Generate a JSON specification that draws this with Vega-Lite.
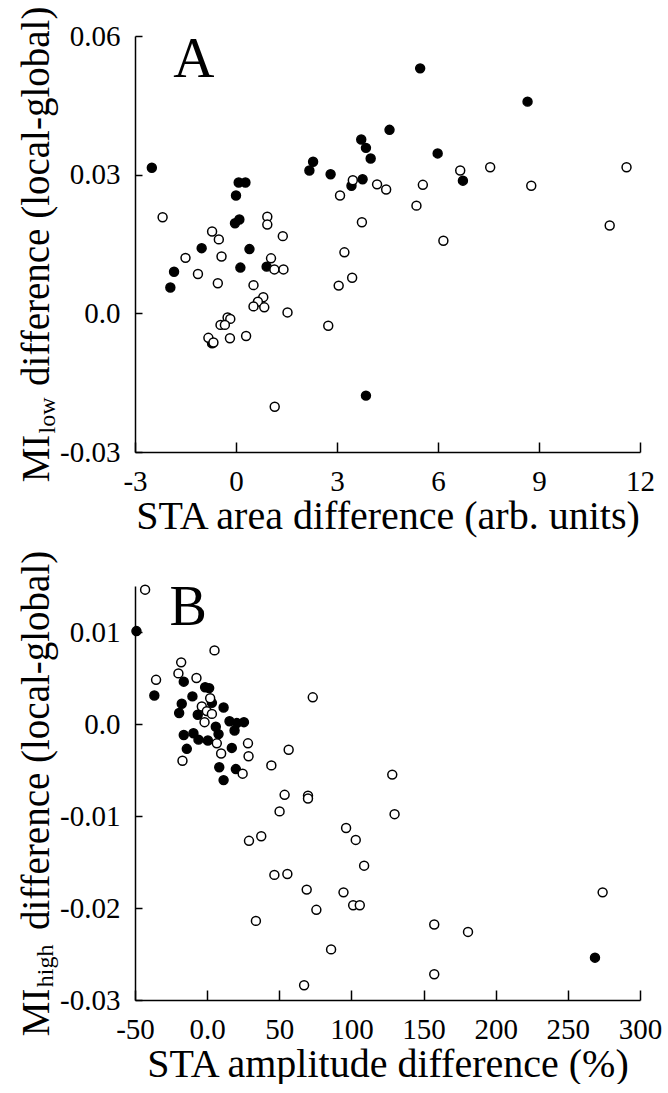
{
  "$schema": "https://vega.github.io/schema/vega-lite/v6.json",
  "autosize": {"type": "pad"},
  "padding": {"left": 17, "top": 6, "right": 0, "bottom": 0},
  "background": "white",
  "bounds": "flush",
  "spacing": 134,
  "config": {
    "view": {"stroke": null},
    "axis": {
      "domainColor": "black", "domainWidth": 1.5, "tickColor": "black", "tickWidth": 1.5,
      "grid": false, "labelFont": "Liberation Serif", "labelFontSize": 29, "labelColor": "black",
      "titleFont": "Liberation Serif", "titleFontSize": 39, "titleFontWeight": "normal", "titleColor": "black",
      "labelFlush": false, "labelOverlap": false
    },
    "axisX": {"tickSize": -10, "labelPadding": 25, "titlePadding": 0, "titleFontSize": 40},
    "axisY": {"tickSize": -7, "labelPadding": 22, "titlePadding": 3}
  },
  "datasets": {
    "a": [
      {"x": -2.50, "y": 0.0315, "t": "filled"},
      {"x": 0.08, "y": 0.0283, "t": "filled"},
      {"x": 0.28, "y": 0.0283, "t": "filled"},
      {"x": 0.00, "y": 0.0255, "t": "filled"},
      {"x": -0.03, "y": 0.0195, "t": "filled"},
      {"x": 0.10, "y": 0.0203, "t": "filled"},
      {"x": -1.02, "y": 0.0141, "t": "filled"},
      {"x": 0.40, "y": 0.0139, "t": "filled"},
      {"x": -1.84, "y": 0.0090, "t": "filled"},
      {"x": -1.95, "y": 0.0056, "t": "filled"},
      {"x": 0.13, "y": 0.0099, "t": "filled"},
      {"x": 0.91, "y": 0.0101, "t": "filled"},
      {"x": -0.71, "y": -0.0065, "t": "filled"},
      {"x": 2.18, "y": 0.0309, "t": "filled"},
      {"x": 2.29, "y": 0.0328, "t": "filled"},
      {"x": 2.81, "y": 0.0301, "t": "filled"},
      {"x": 3.72, "y": 0.0376, "t": "filled"},
      {"x": 3.86, "y": 0.0358, "t": "filled"},
      {"x": 4.00, "y": 0.0335, "t": "filled"},
      {"x": 4.56, "y": 0.0397, "t": "filled"},
      {"x": 3.76, "y": 0.0290, "t": "filled"},
      {"x": 3.43, "y": 0.0276, "t": "filled"},
      {"x": 3.86, "y": -0.0178, "t": "filled"},
      {"x": 5.47, "y": 0.0530, "t": "filled"},
      {"x": 8.66, "y": 0.0458, "t": "filled"},
      {"x": 5.99, "y": 0.0346, "t": "filled"},
      {"x": 6.74, "y": 0.0287, "t": "filled"},
      {"x": 6.66, "y": 0.0309, "t": "open"},
      {"x": 7.55, "y": 0.0316, "t": "open"},
      {"x": 11.6, "y": 0.0316, "t": "open"},
      {"x": 5.55, "y": 0.0278, "t": "open"},
      {"x": 8.77, "y": 0.0276, "t": "open"},
      {"x": 4.46, "y": 0.0268, "t": "open"},
      {"x": 5.36, "y": 0.0233, "t": "open"},
      {"x": 6.16, "y": 0.0157, "t": "open"},
      {"x": 11.1, "y": 0.0190, "t": "open"},
      {"x": -2.18, "y": 0.0208, "t": "open"},
      {"x": -0.71, "y": 0.0177, "t": "open"},
      {"x": -0.51, "y": 0.0160, "t": "open"},
      {"x": -1.50, "y": 0.0120, "t": "open"},
      {"x": -0.43, "y": 0.0123, "t": "open"},
      {"x": -1.13, "y": 0.0085, "t": "open"},
      {"x": -0.54, "y": 0.0065, "t": "open"},
      {"x": 0.93, "y": 0.0209, "t": "open"},
      {"x": 0.93, "y": 0.0192, "t": "open"},
      {"x": 1.39, "y": 0.0167, "t": "open"},
      {"x": 1.04, "y": 0.0119, "t": "open"},
      {"x": 1.14, "y": 0.0095, "t": "open"},
      {"x": 1.41, "y": 0.0095, "t": "open"},
      {"x": 0.52, "y": 0.0061, "t": "open"},
      {"x": 0.81, "y": 0.0035, "t": "open"},
      {"x": 0.65, "y": 0.0025, "t": "open"},
      {"x": 0.52, "y": 0.0015, "t": "open"},
      {"x": 0.84, "y": 0.0013, "t": "open"},
      {"x": 1.53, "y": 0.0002, "t": "open"},
      {"x": -0.25, "y": -0.0009, "t": "open"},
      {"x": -0.17, "y": -0.0012, "t": "open"},
      {"x": -0.46, "y": -0.0025, "t": "open"},
      {"x": -0.33, "y": -0.0025, "t": "open"},
      {"x": -0.82, "y": -0.0053, "t": "open"},
      {"x": -0.67, "y": -0.0063, "t": "open"},
      {"x": -0.18, "y": -0.0054, "t": "open"},
      {"x": 0.30, "y": -0.0049, "t": "open"},
      {"x": 2.74, "y": -0.0027, "t": "open"},
      {"x": 1.15, "y": -0.0202, "t": "open"},
      {"x": 3.09, "y": 0.0255, "t": "open"},
      {"x": 3.47, "y": 0.0288, "t": "open"},
      {"x": 4.19, "y": 0.0279, "t": "open"},
      {"x": 3.74, "y": 0.0197, "t": "open"},
      {"x": 3.22, "y": 0.0132, "t": "open"},
      {"x": 3.05, "y": 0.0060, "t": "open"},
      {"x": 3.45, "y": 0.0077, "t": "open"}
    ],
    "b": [
      {"x": -49.0, "y": 0.0101, "t": "filled"},
      {"x": -36.6, "y": 0.0031, "t": "filled"},
      {"x": -16.2, "y": 0.0046, "t": "filled"},
      {"x": -10.2, "y": 0.0030, "t": "filled"},
      {"x": -1.4, "y": 0.0040, "t": "filled"},
      {"x": 1.4, "y": 0.0039, "t": "filled"},
      {"x": -17.6, "y": 0.0022, "t": "filled"},
      {"x": -19.4, "y": 0.0012, "t": "filled"},
      {"x": -6.5, "y": 0.0010, "t": "filled"},
      {"x": 3.3, "y": 0.0023, "t": "filled"},
      {"x": 11.4, "y": 0.0018, "t": "filled"},
      {"x": 15.5, "y": 0.0003, "t": "filled"},
      {"x": 20.6, "y": 0.0001, "t": "filled"},
      {"x": 25.5, "y": 0.0002, "t": "filled"},
      {"x": 6.0, "y": -0.0003, "t": "filled"},
      {"x": 19.0, "y": -0.0007, "t": "filled"},
      {"x": -16.2, "y": -0.0012, "t": "filled"},
      {"x": -9.5, "y": -0.0010, "t": "filled"},
      {"x": -6.0, "y": -0.0017, "t": "filled"},
      {"x": 0.5, "y": -0.0018, "t": "filled"},
      {"x": 7.9, "y": -0.0011, "t": "filled"},
      {"x": -14.1, "y": -0.0027, "t": "filled"},
      {"x": 17.1, "y": -0.0026, "t": "filled"},
      {"x": 8.4, "y": -0.0047, "t": "filled"},
      {"x": 19.9, "y": -0.0049, "t": "filled"},
      {"x": 11.4, "y": -0.0061, "t": "filled"},
      {"x": 268.8, "y": -0.0254, "t": "filled"},
      {"x": -43.0, "y": 0.0146, "t": "open"},
      {"x": 5.1, "y": 0.0080, "t": "open"},
      {"x": -18.0, "y": 0.0067, "t": "open"},
      {"x": -19.9, "y": 0.0055, "t": "open"},
      {"x": -7.4, "y": 0.0050, "t": "open"},
      {"x": -35.4, "y": 0.0048, "t": "open"},
      {"x": 2.1, "y": 0.0028, "t": "open"},
      {"x": -3.7, "y": 0.0019, "t": "open"},
      {"x": -0.2, "y": 0.0014, "t": "open"},
      {"x": 3.3, "y": 0.0011, "t": "open"},
      {"x": -1.8, "y": 0.0002, "t": "open"},
      {"x": 6.7, "y": -0.0021, "t": "open"},
      {"x": 9.7, "y": -0.0032, "t": "open"},
      {"x": -17.1, "y": -0.0040, "t": "open"},
      {"x": 28.3, "y": -0.0021, "t": "open"},
      {"x": 28.7, "y": -0.0035, "t": "open"},
      {"x": 24.6, "y": -0.0054, "t": "open"},
      {"x": 73.2, "y": 0.0029, "t": "open"},
      {"x": 56.5, "y": -0.0028, "t": "open"},
      {"x": 44.5, "y": -0.0045, "t": "open"},
      {"x": 53.7, "y": -0.0077, "t": "open"},
      {"x": 69.9, "y": -0.0078, "t": "open"},
      {"x": 69.9, "y": -0.0081, "t": "open"},
      {"x": 50.2, "y": -0.0095, "t": "open"},
      {"x": 128.3, "y": -0.0055, "t": "open"},
      {"x": 129.9, "y": -0.0098, "t": "open"},
      {"x": 96.3, "y": -0.0113, "t": "open"},
      {"x": 103.0, "y": -0.0126, "t": "open"},
      {"x": 37.5, "y": -0.0122, "t": "open"},
      {"x": 29.0, "y": -0.0127, "t": "open"},
      {"x": 108.8, "y": -0.0154, "t": "open"},
      {"x": 46.6, "y": -0.0164, "t": "open"},
      {"x": 55.6, "y": -0.0163, "t": "open"},
      {"x": 69.0, "y": -0.0180, "t": "open"},
      {"x": 94.5, "y": -0.0183, "t": "open"},
      {"x": 101.2, "y": -0.0197, "t": "open"},
      {"x": 105.8, "y": -0.0197, "t": "open"},
      {"x": 75.7, "y": -0.0202, "t": "open"},
      {"x": 33.8, "y": -0.0214, "t": "open"},
      {"x": 274.1, "y": -0.0183, "t": "open"},
      {"x": 157.4, "y": -0.0218, "t": "open"},
      {"x": 180.8, "y": -0.0226, "t": "open"},
      {"x": 85.9, "y": -0.0245, "t": "open"},
      {"x": 157.4, "y": -0.0272, "t": "open"},
      {"x": 67.2, "y": -0.0284, "t": "open"}
    ]
  },
  "vconcat": [
    {
      "width": 505,
      "height": 416,
      "layer": [
        {
          "data": {"name": "a"},
          "mark": {"type": "circle", "size": 80, "stroke": "black", "strokeWidth": 1.5, "opacity": 1, "clip": false},
          "encoding": {
            "x": {"field": "x", "type": "quantitative",
                  "scale": {"domain": [-3, 12], "nice": false, "zero": false},
                  "axis": {"title": "STA area difference (arb. units)", "values": [-3, 0, 3, 6, 9, 12],
                           "labelExpr": "(datum.value < 0 ? '-' : '') + format(abs(datum.value), 'd')"}},
            "y": {"field": "y", "type": "quantitative",
                  "scale": {"domain": [-0.03, 0.06], "nice": false, "zero": false},
                  "axis": {"title": "MI\u00a0\u00a0\u00a0\u00a0\u00a0difference (local-global)", "values": [-0.03, 0, 0.03, 0.06],
                           "labelExpr": "datum.value == 0 ? '0.0' : (datum.value < 0 ? '-' : '') + format(abs(datum.value), '.2f')"}},
            "fill": {"field": "t", "type": "nominal", "scale": {"domain": ["filled", "open"], "range": ["black", "white"]}, "legend": null}
          }
        },
        {
          "data": {"values": [{}]},
          "mark": {"type": "text", "text": "A", "font": "Liberation Serif", "fontSize": 57, "color": "black", "align": "center", "baseline": "alphabetic"},
          "encoding": {"x": {"datum": -1.25}, "y": {"datum": 0.0511}}
        },
        {
          "data": {"values": [{}]},
          "mark": {"type": "text", "text": "low", "font": "Liberation Serif", "fontSize": 24, "color": "black", "align": "center", "baseline": "alphabetic", "angle": 270},
          "encoding": {"x": {"datum": -5.385}, "y": {"datum": -0.0221}}
        }
      ]
    },
    {
      "width": 505,
      "height": 414,
      "layer": [
        {
          "data": {"name": "b"},
          "mark": {"type": "circle", "size": 80, "stroke": "black", "strokeWidth": 1.5, "opacity": 1, "clip": false},
          "encoding": {
            "x": {"field": "x", "type": "quantitative",
                  "scale": {"domain": [-50, 300], "nice": false, "zero": false},
                  "axis": {"title": "STA amplitude difference (%)", "values": [-50, 0, 50, 100, 150, 200, 250, 300],
                           "labelExpr": "datum.value == 0 ? '0.0' : (datum.value < 0 ? '-' : '') + format(abs(datum.value), 'd')"}},
            "y": {"field": "y", "type": "quantitative",
                  "scale": {"domain": [-0.03, 0.015], "nice": false, "zero": false},
                  "axis": {"title": "MI\u00a0\u00a0\u00a0\u00a0\u00a0\u00a0difference (local-global)", "values": [-0.03, -0.02, -0.01, 0, 0.01],
                           "labelExpr": "datum.value == 0 ? '0.0' : (datum.value < 0 ? '-' : '') + format(abs(datum.value), '.2f')"}},
            "fill": {"field": "t", "type": "nominal", "scale": {"domain": ["filled", "open"], "range": ["black", "white"]}, "legend": null}
          }
        },
        {
          "data": {"values": [{}]},
          "mark": {"type": "text", "text": "B", "font": "Liberation Serif", "fontSize": 56, "color": "black", "align": "center", "baseline": "alphabetic"},
          "encoding": {"x": {"datum": -13.2}, "y": {"datum": 0.0108}}
        },
        {
          "data": {"values": [{}]},
          "mark": {"type": "text", "text": "high", "font": "Liberation Serif", "fontSize": 24, "color": "black", "align": "center", "baseline": "alphabetic", "angle": 270},
          "encoding": {"x": {"datum": -106.5}, "y": {"datum": -0.0263}}
        }
      ]
    }
  ]
}
